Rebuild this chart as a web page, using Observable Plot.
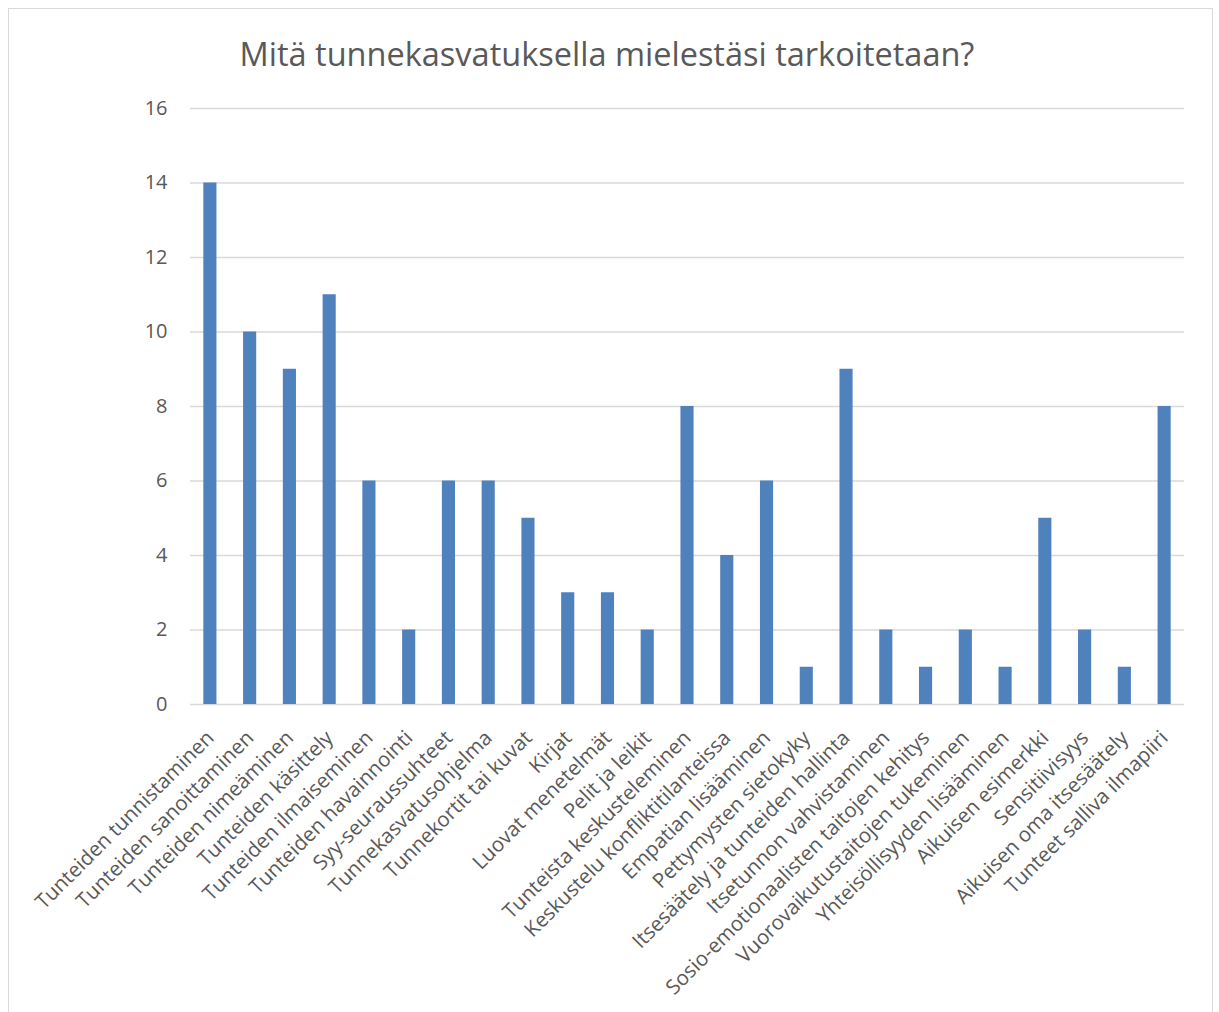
<!DOCTYPE html>
<html>
<head>
<meta charset="utf-8">
<script src="https://cdn.jsdelivr.net/npm/d3@7"></script>
<script src="https://cdn.jsdelivr.net/npm/@observablehq/plot@0.6"></script>
<style>
  html, body { margin: 0; padding: 0; background: #fff; }
  body { width: 1219px; height: 1012px; position: relative; overflow: hidden; font-family: "Open Sans", sans-serif; }
  #frame { position: absolute; left: 8px; top: 8px; width: 1205px; height: 1020px; border: 1.5px solid #d9d9d9; box-sizing: border-box; }
  #title { position: absolute; left: 0; top: 32px; width: 1214px; text-align: center; font-size: 32.5px; line-height: 44px; color: #595959; white-space: nowrap; }
  #chart { position: absolute; left: 0; top: 90px; }
</style>
</head>
<body>
<div id="frame"></div>
<div id="title">Mitä tunnekasvatuksella mielestäsi tarkoitetaan?</div>
<div id="chart"></div>
<script>
const categories = [
  "Tunteiden tunnistaminen",
  "Tunteiden sanoittaminen",
  "Tunteiden nimeäminen",
  "Tunteiden käsittely",
  "Tunteiden ilmaiseminen",
  "Tunteiden havainnointi",
  "Syy-seuraussuhteet",
  "Tunnekasvatusohjelma",
  "Tunnekortit tai kuvat",
  "Kirjat",
  "Luovat menetelmät",
  "Pelit ja leikit",
  "Tunteista keskusteleminen",
  "Keskustelu konfliktitilanteissa",
  "Empatian lisääminen",
  "Pettymysten sietokyky",
  "Itsesäätely ja tunteiden hallinta",
  "Itsetunnon vahvistaminen",
  "Sosio-emotionaalisten taitojen kehitys",
  "Vuorovaikutustaitojen tukeminen",
  "Yhteisöllisyyden lisääminen",
  "Aikuisen esimerkki",
  "Sensitiivisyys",
  "Aikuisen oma itsesäätely",
  "Tunteet salliva ilmapiiri"
];
const values = [14, 10, 9, 11, 6, 2, 6, 6, 5, 3, 3, 2, 8, 4, 6, 1, 9, 2, 1, 2, 1, 5, 2, 1, 8];
const yTicks = [0, 2, 4, 6, 8, 10, 12, 14, 16];

const data = categories.map((c, i) => ({category: c, value: values[i]}));

const chart = Plot.plot({
  width: 1219,
  height: 922,
  marginLeft: 190,
  marginRight: 35,
  marginTop: 18,
  marginBottom: 308,
  style: {fontFamily: "Open Sans, sans-serif", color: "#595959", background: "transparent", overflow: "visible"},
  x: {domain: categories, paddingInner: 0.67, paddingOuter: 0.335, round: false, label: null},
  y: {domain: [0, 16], label: null},
  marks: [
    Plot.ruleY(yTicks, {stroke: "#d9d9d9", strokeWidth: 1.5}),
    Plot.barY(data, {x: "category", y: "value", fill: "#4f81bd"}),
    Plot.axisY({ticks: yTicks, tickSize: 0, tickPadding: 23, fontSize: 20, label: null}),
    Plot.axisX({tickSize: 0, tickPadding: 30, tickRotate: -45, fontSize: 20.5, label: null})
  ]
});
document.getElementById("chart").appendChild(chart);
</script>
</body>
</html>
